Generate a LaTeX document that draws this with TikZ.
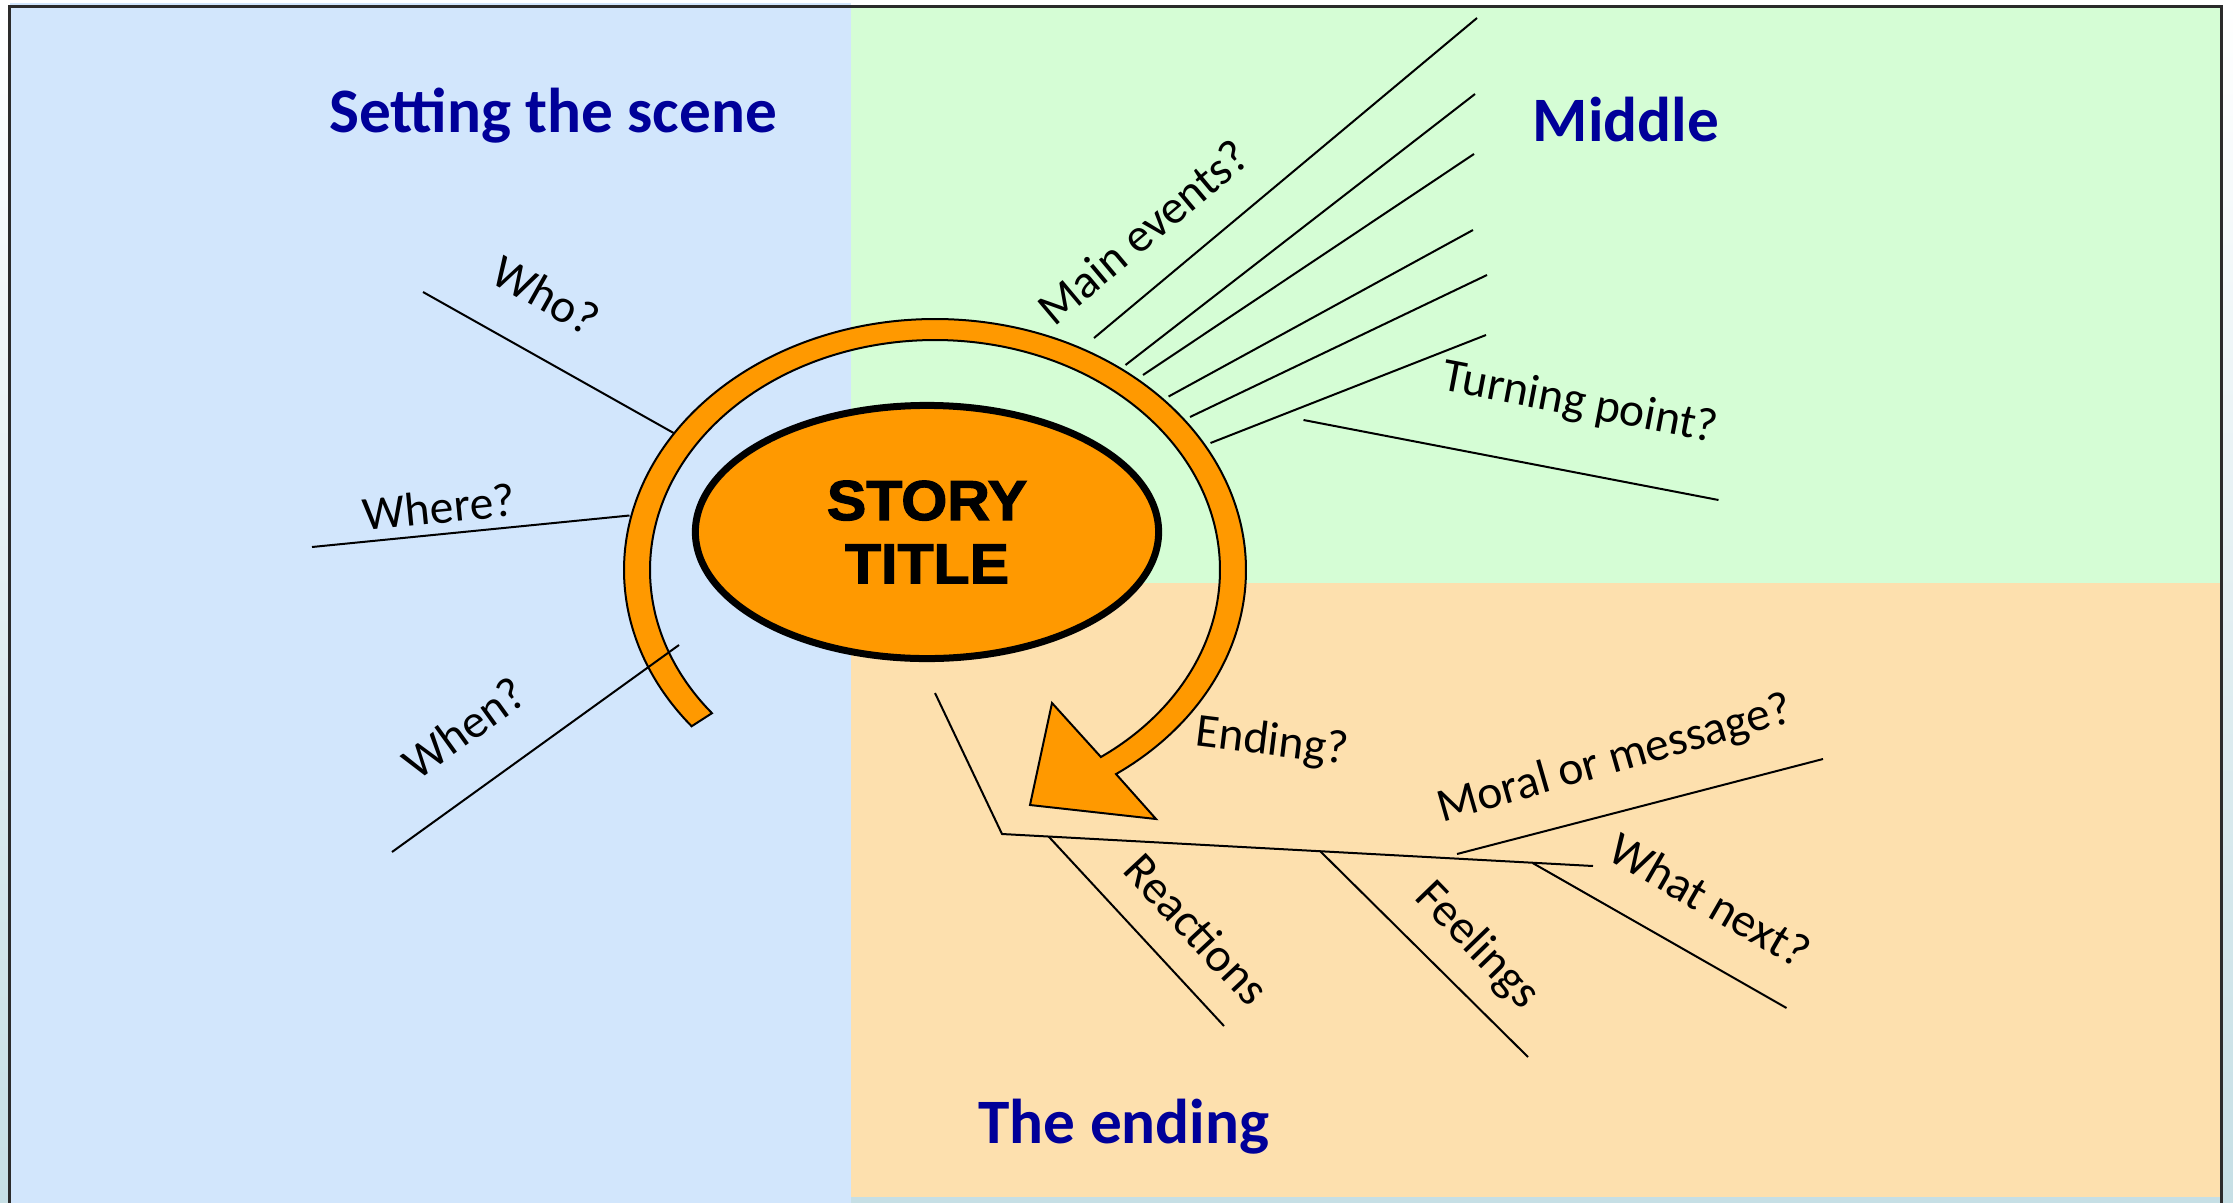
\documentclass[tikz,border=0pt]{standalone}
\usepackage{fontspec}
\setmainfont{Carlito}
\newfontfamily\arialfont[FakeBold=2.2,FakeStretch=1.05]{Liberation Sans Bold}
\usetikzlibrary{shapes.geometric}
\definecolor{bgblue}{HTML}{D2E6FC}
\definecolor{bggreen}{HTML}{D5FDD5}
\definecolor{bgpeach}{HTML}{FDE0AE}
\definecolor{outer}{HTML}{C6DFE5}
\definecolor{arroworange}{HTML}{FF9900}
\definecolor{navy}{HTML}{000099}
\definecolor{framegrey}{HTML}{2B2B2B}
\begin{document}
\begin{tikzpicture}[x=0.01cm,y=-0.01cm,
  thinline/.style={line width=0.02cm, black},
  lbl/.style={font=\fontsize{13.5}{16}\selectfont, inner sep=1pt},
  hdr/.style={font=\bfseries\fontsize{18}{21}\selectfont, text=navy, inner sep=0pt, anchor=base},
  curvedarrow/.style={fill=arroworange, draw=black, line width=0.02cm, line join=miter},
  titleoval/.style={ellipse, draw=black, fill=arroworange, line width=0.07cm,
    minimum width=4.63cm, minimum height=2.53cm, inner sep=0pt, align=center,
    font=\arialfont\fontsize{16}{18}\selectfont}]
% page and backgrounds
\useasboundingbox (0,0) rectangle (2233,1203);
\shade[top color=white, bottom color=outer] (0,0) rectangle (2233,1203);
\fill[bgblue] (10,3) rectangle (851,1203);
\fill[bggreen] (851,7) rectangle (2221,583);
\fill[bgpeach] (851,583) rectangle (2221,1197);
\draw[framegrey, line width=0.03cm] (9.5,1210) -- (9.5,6.5) -- (2221.5,6.5) -- (2221.5,1210);

% coordinates of the connectors
\coordinate (who1) at (423,292);   \coordinate (who2) at (679,436);
\coordinate (whr1) at (312,547);   \coordinate (whr2) at (629.5,515.5);
\coordinate (whn1) at (392,852);   \coordinate (whn2) at (679,645);
\coordinate (m1a) at (1094,338);   \coordinate (m1b) at (1477,18);
\coordinate (m2a) at (1125.5,365); \coordinate (m2b) at (1475,94);
\coordinate (m3a) at (1143,375);   \coordinate (m3b) at (1474,154);
\coordinate (m4a) at (1168.6,396.5); \coordinate (m4b) at (1473,230);
\coordinate (m5a) at (1190,417);   \coordinate (m5b) at (1487,275);
\coordinate (m6a) at (1210.5,443); \coordinate (m6b) at (1486,335);
\coordinate (tp1) at (1303.5,420); \coordinate (tp2) at (1718.5,500);
\coordinate (b0) at (935,693);     \coordinate (b1) at (1002,834); \coordinate (b2) at (1593,866);
\coordinate (re1) at (1048.6,836.5); \coordinate (re2) at (1224,1026);
\coordinate (fe1) at (1320,851);   \coordinate (fe2) at (1528,1057);
\coordinate (mo1) at (1457,854);   \coordinate (mo2) at (1823,759);
\coordinate (wn1) at (1532.6,863); \coordinate (wn2) at (1786.5,1008);
\coordinate (headA) at (1052,703); \coordinate (headB) at (1030,805); \coordinate (headC) at (1156,819);

% connectors behind the arrow
\draw[thinline] (who1) -- (who2);
\draw[thinline] (whr1) -- (whr2);
\draw[thinline] (m1a) -- (m1b);
\draw[thinline] (m2a) -- (m2b);
\draw[thinline] (m3a) -- (m3b);
\draw[thinline] (m4a) -- (m4b);
\draw[thinline] (m5a) -- (m5b);
\draw[thinline] (m6a) -- (m6b);
\draw[thinline] (tp1) -- (tp2);
\draw[thinline] (b0) -- (b1) -- (b2);
\draw[thinline] (re1) -- (re2);
\draw[thinline] (fe1) -- (fe2);
\draw[thinline] (mo1) -- (mo2);
\draw[thinline] (wn1) -- (wn2);

% curved arrow
\filldraw[curvedarrow]
  plot[domain=141.5:414.4, samples=120, smooth] ({935+311*cos(\x)},{570+251*sin(\x)})
  -- (headC) -- (headB) -- (headA)
  -- plot[domain=414.4:141.5, samples=120, smooth] ({935+285*cos(\x)},{570+230*sin(\x)})
  -- cycle;

% connector drawn over the arrow
\draw[thinline] (whn1) -- (whn2);

% central oval
\node[titleoval] (title) at (927,532) {STORY\\TITLE};

% headings
\node[hdr] (hscene) at (553,132) {Setting the scene};
\node[hdr] (hmiddle) at (1626,141) {Middle};
\node[hdr] (hending) at (1124,1143) {The ending};

% labels
\node[lbl, rotate=-29.4] (lwho) at (546,295) {Who?};
\node[lbl, rotate=5.7] (lwhere) at (439,507) {Where?};
\node[lbl, rotate=35.8] (lwhen) at (464,728) {When?};
\node[lbl, rotate=40] (lmain) at (1143,232) {Main events?};
\node[lbl, rotate=-10.8] (lturn) at (1580,404) {Turning point?};
\node[lbl, rotate=-7] (lend) at (1272,743) {Ending?};
\node[lbl, rotate=16] (lmoral) at (1615,760) {Moral or message?};
\node[lbl, rotate=-30] (lnext) at (1710,900) {What next?};
\node[lbl, rotate=-47] (lreact) at (1197,929) {Reactions};
\node[lbl, rotate=-46] (lfeel) at (1477,946) {Feelings};
\end{tikzpicture}
\end{document}
